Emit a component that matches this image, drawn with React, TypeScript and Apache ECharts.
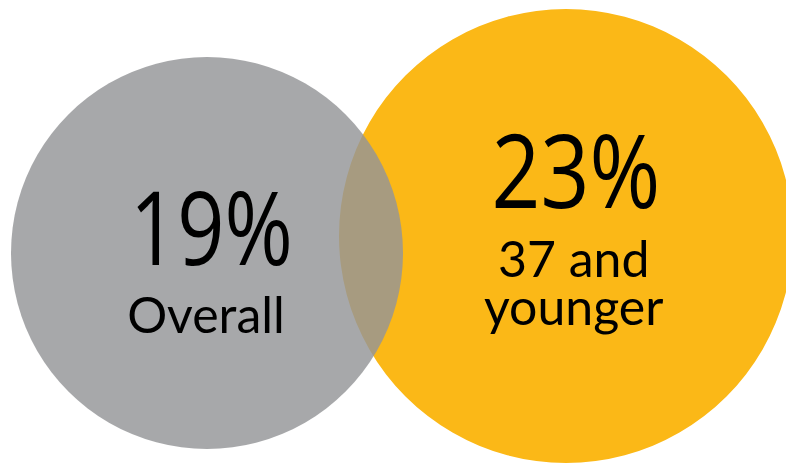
import React, { useEffect, useRef } from "react";
import * as echarts from "echarts";

// ---- data ----
const categories: string[] = ["Overall", "37 and younger"];
const values: number[] = [19, 23];
const labelLines: string[][] = [["Overall"], ["37 and", "younger"]];

// ---- layout / style ----
const centers: number[][] = [
  [207, 253],
  [566, 236],
];
const diameters: number[] = [392, 454];
const colors: string[] = ["rgb(148,149,151)", "#fbb817"];
const opacities: number[] = [0.82, 1];
const zs: number[] = [3, 2];
// offsets of text-block centres relative to the circle centre
const bigOffsets: number[][] = [
  [4.5, -27.5],
  [10, -68],
];
const smallOffsets: number[][] = [
  [-1, 60.5],
  [7.75, 45.5],
];
const bigScaleX: number[] = [0.81, 0.84];

const W = 786;
const H = 464;
const BIG_FONT = "'Open Sans', 'Noto Sans', sans-serif";
const SMALL_FONT = "Lato, 'Noto Sans', sans-serif";

export default function App() {
  const ref = useRef<HTMLDivElement | null>(null);
  useEffect(() => {
    document.body.style.margin = "0";
    if (!ref.current) return;
    const chart = echarts.init(ref.current, undefined, { renderer: "svg" });
    const series = categories.map((cat, i) => ({
      type: "scatter",
      name: cat,
      z: zs[i],
      clip: false,
      symbol: "circle",
      symbolSize: diameters[i],
      itemStyle: { color: colors[i], opacity: opacities[i] },
      emphasis: { disabled: true },
      label: { show: false },
      data: [[centers[i][0], centers[i][1], values[i]]],
    }));
    chart.setOption({
      animation: false,
      backgroundColor: "#ffffff",
      grid: { left: 0, right: 0, top: 0, bottom: 0 },
      xAxis: { type: "value", min: 0, max: W, show: false },
      yAxis: { type: "value", min: 0, max: H, inverse: true, show: false },
      tooltip: { show: false },
      series,
    });
    const elements: any[] = [];
    categories.forEach((_, i) => {
      const p = chart.convertToPixel({ gridIndex: 0 }, centers[i]) as number[];
      elements.push({
        type: "text",
        z: 100,
        x: p[0] + bigOffsets[i][0],
        y: p[1] + bigOffsets[i][1],
        scaleX: bigScaleX[i],
        style: {
          text: `${values[i]}%`,
          fontFamily: BIG_FONT,
          fontSize: 102,
          lineHeight: 90,
          fill: "#000",
          align: "center",
          verticalAlign: "middle",
        },
      });
      elements.push({
        type: "text",
        z: 100,
        x: p[0] + smallOffsets[i][0],
        y: p[1] + smallOffsets[i][1],
        style: {
          text: labelLines[i].join("\n"),
          fontFamily: SMALL_FONT,
          fontSize: 50,
          lineHeight: 48,
          fill: "#000",
          align: "center",
          verticalAlign: "middle",
        },
      });
    });
    chart.setOption({ graphic: { elements } });
    return () => chart.dispose();
  }, []);
  return <div ref={ref} style={{ width: W, height: H }} />;
}
